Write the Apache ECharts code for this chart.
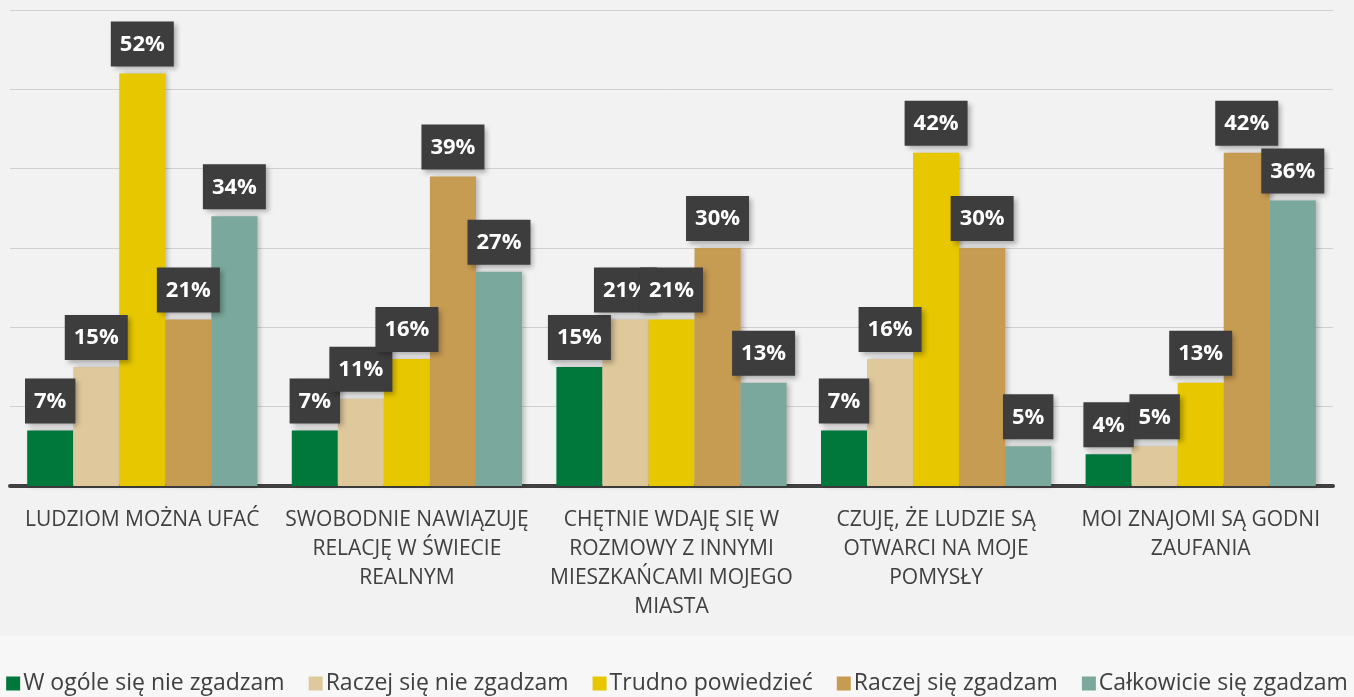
<!DOCTYPE html>
<html>
<head>
<meta charset="utf-8">
<script src="https://cdn.jsdelivr.net/npm/echarts@6/dist/echarts.min.js"></script>
<style>
  html, body { margin: 0; padding: 0; background: #f2f2f2; }
  #chart { width: 1354px; height: 697px; }
</style>
</head>
<body>
<div id="chart"></div>
<script>
// kategorie (z podziałem wierszy jak na oryginale)
const categories = [
  'LUDZIOM MOŻNA UFAĆ',
  'SWOBODNIE NAWIĄZUJĘ\nRELACJĘ W ŚWIECIE\nREALNYM',
  'CHĘTNIE WDAJĘ SIĘ W\nROZMOWY Z INNYMI\nMIESZKAŃCAMI MOJEGO\nMIASTA',
  'CZUJĘ, ŻE LUDZIE SĄ\nOTWARCI NA MOJE\nPOMYSŁY',
  'MOI ZNAJOMI SĄ GODNI\nZAUFANIA'
]
const seriesNames = [
  'W ogóle się nie zgadzam',
  'Raczej się nie zgadzam',
  'Trudno powiedzieć',
  'Raczej się zgadzam',
  'Całkowicie się zgadzam'
]
const wOgoleNie = [7, 7, 15, 7, 4]
const raczejNie = [15, 11, 21, 16, 5]
const trudno = [52, 16, 21, 42, 13]
const raczejTak = [21, 39, 30, 30, 42]
const calkowicie = [34, 27, 13, 5, 36]
const colors = ['#00773b', '#dec89c', '#e6c700', '#c69b52', '#7ba89c']

const chart = echarts.init(document.getElementById('chart'))
const values = [wOgoleNie, raczejNie, trudno, raczejTak, calkowicie]

const option = {
  backgroundColor: '#f2f2f2',
  textStyle: { fontFamily: 'Open Sans' },
  graphic: [{
    type: 'rect',
    silent: true,
    z: -1,
    shape: { x: 0, y: 636, width: 1354, height: 61 },
    style: { fill: '#f7f7f7' }
  }],
  grid: { left: 10, right: 21, top: 10, bottom: 211 },
  legend: {
    bottom: 2,
    left: 'center',
    width: 1354,
    padding: 0,
    itemWidth: 14,
    itemHeight: 14,
    itemGap: 24,
    icon: 'rect',
    textStyle: { fontSize: 23, color: '#404040', fontFamily: 'Open Sans', padding: [0, 0, 0, -2] },
    data: seriesNames
  },
  xAxis: {
    type: 'category',
    data: categories,
    axisLine: { lineStyle: { color: '#404040', width: 4 } },
    axisTick: { show: false },
    axisLabel: {
      color: '#404040',
      fontSize: 21,
      lineHeight: 29,
      margin: 20,
      interval: 0
    }
  },
  yAxis: {
    type: 'value',
    min: 0,
    max: 60,
    interval: 10,
    axisLabel: { show: false },
    axisLine: { show: false },
    axisTick: { show: false },
    splitLine: { lineStyle: { color: '#d0d0d0', width: 1 } }
  },
  series: values.map((d, i) => ({
    name: seriesNames[i],
    type: 'bar',
    data: d,
    barGap: 0,
    barCategoryGap: '13%',
    itemStyle: {
      color: colors[i],
      shadowBlur: 5,
      shadowOffsetX: 3,
      shadowOffsetY: 0,
      shadowColor: 'rgba(0,0,0,0.25)'
    },
    labelLayout: { moveOverlap: 'shiftX' },
    label: {
      show: true,
      position: 'top',
      distance: 7,
      formatter: '{c}%',
      color: '#fff',
      fontSize: 22,
      fontWeight: 'bold',
      fontFamily: 'Open Sans',
      backgroundColor: '#3d3d3d',
      padding: [12, 9, 11, 9],
      shadowBlur: 5,
      shadowOffsetX: 3,
      shadowOffsetY: 3,
      shadowColor: 'rgba(0,0,0,0.3)'
    }
  }))
}
chart.setOption(option)
</script>
</body>
</html>
